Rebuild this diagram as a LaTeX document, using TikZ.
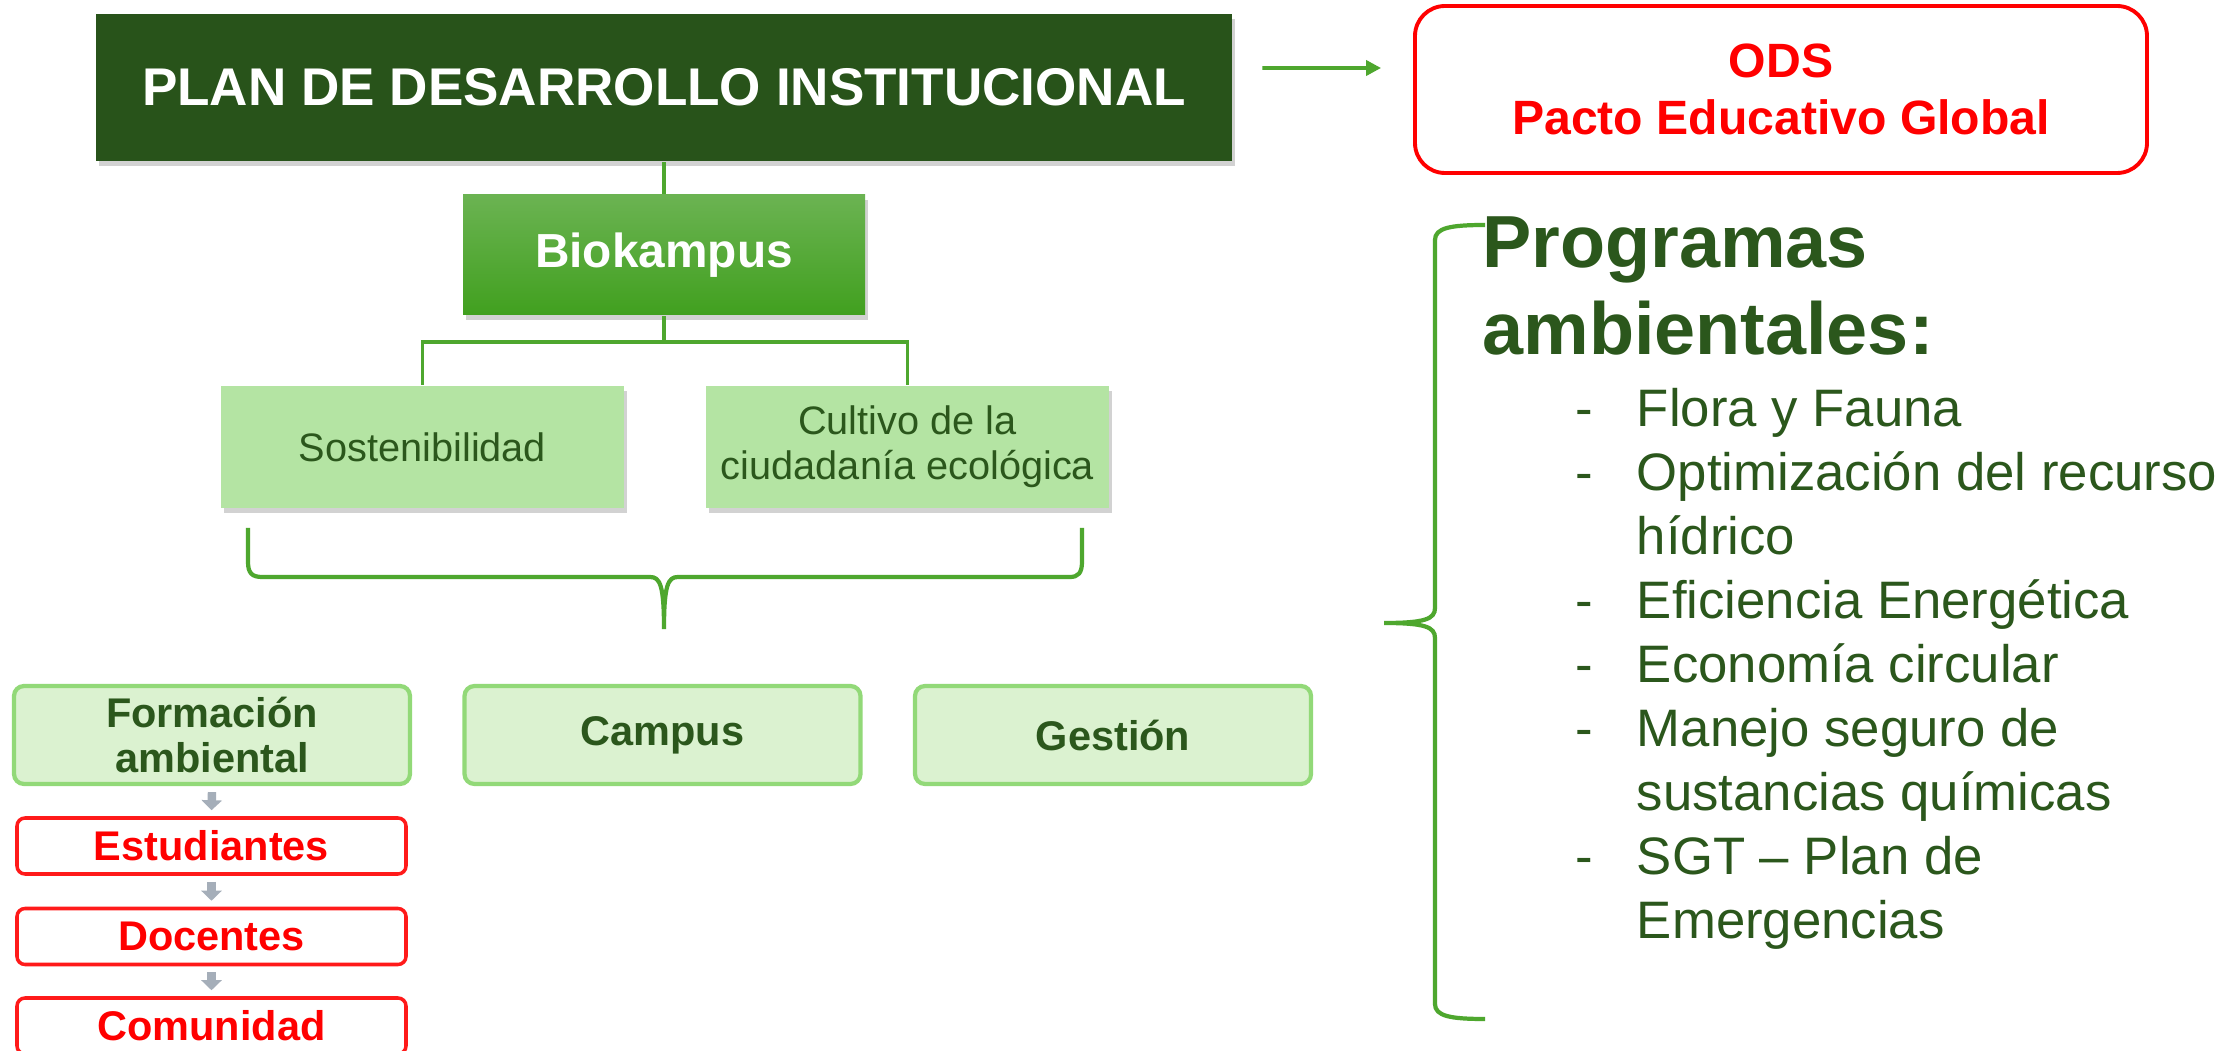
\documentclass[tikz,border=0pt]{standalone}
\usepackage{fontspec}
\setmainfont{Liberation Sans}
\usetikzlibrary{arrows.meta,shadows}

\definecolor{darkgreen}{HTML}{28531A}
\definecolor{textgreen}{HTML}{2B571C}
\definecolor{linegreen}{HTML}{4EA72E}
\definecolor{biotop}{HTML}{6BB352}
\definecolor{biobottom}{HTML}{41A01F}
\definecolor{subfill}{HTML}{B4E4A3}
\definecolor{areafill}{HTML}{DBF2D0}
\definecolor{areaborder}{HTML}{92D978}
\definecolor{arrowgray}{HTML}{A5AEB9}
\definecolor{odsred}{HTML}{FF0000}
\definecolor{boxred}{HTML}{FF1A1A}

\begin{document}
\begin{tikzpicture}[thick,
    every node/.style={inner sep=0pt, align=center},
    boxshadow/.style={drop shadow={shadow xshift=0.03cm, shadow yshift=-0.05cm, opacity=0.35}},
    pdibox/.style={fill=darkgreen, text=white, minimum width=11.36cm, minimum height=1.47cm,
        font=\bfseries\fontsize{15.1}{18}\selectfont, boxshadow},
    odsbox/.style={draw=odsred, line width=1.1pt, rounded corners=0.3cm, text=odsred,
        minimum width=7.32cm, minimum height=1.67cm, font=\bfseries\fontsize{13.7}{16.2}\selectfont},
    biobox/.style={top color=biotop, bottom color=biobottom, text=white, minimum width=4.02cm,
        minimum height=1.2cm, font=\bfseries\fontsize{13.6}{16}\selectfont, boxshadow},
    subbox/.style={fill=subfill, text=textgreen, minimum width=4.03cm, minimum height=1.22cm,
        font=\fontsize{11.3}{12.9}\selectfont, boxshadow},
    areabox/.style={draw=areaborder, fill=areafill, line width=1.2pt, rounded corners=0.1cm,
        text=textgreen, minimum width=3.96cm, minimum height=0.98cm,
        font=\bfseries\fontsize{11.8}{12.9}\selectfont},
    groupbox/.style={draw=boxred, fill=white, line width=1pt, rounded corners=0.08cm,
        text=odsred, minimum width=3.89cm, minimum height=0.56cm,
        font=\bfseries\fontsize{11.8}{13}\selectfont},
    link/.style={draw=linegreen, line width=1.1pt},
    bracegreen/.style={draw=linegreen, line width=1.2pt},
    greenarrow/.style={draw=linegreen, line width=1.1pt, -{Triangle[width=0.15cm,length=0.15cm]}},
    grayarrow/.style={draw=arrowgray, line width=2.4pt, -{Triangle[width=0.2cm,length=0.1cm]}}
  ]

  \useasboundingbox (0,0) rectangle (22.27,10.5);
  \fill[white] (0,0) rectangle (22.27,10.5);

  \node[pdibox] (pdi) at (6.64,9.625) {PLAN DE DESARROLLO INSTITUCIONAL};
  \node[odsbox] (ods) at (17.81,9.605) {ODS\\Pacto Educativo Global};
  \draw[greenarrow] ([xshift=0.29cm,yshift=0.195cm]pdi.east) -- ([xshift=-0.32cm,yshift=0.215cm]ods.west);

  \node[biobox] (bio) at (6.64,7.95) {Biokampus};
  \draw[link] (pdi.south) -- (bio.north);

  \node[subbox] (sost) at (4.225,6.03) {Sostenibilidad};
  \node[subbox] (cult) at (9.075,6.03) {Cultivo de la\\ciudadanía ecológica};
  \coordinate (split) at (6.64,7.08);
  \draw[link] (bio.south) -- (split) -| (sost.north);
  \draw[link] (split) -| (cult.north);

  \draw[bracegreen] (2.48,5.22) -- (2.48,4.88) .. controls (2.48,4.77) and (2.52,4.73) .. (2.62,4.73)
      -- (6.5,4.73) .. controls (6.6,4.73) and (6.64,4.65) .. (6.64,4.21)
      .. controls (6.64,4.65) and (6.68,4.73) .. (6.78,4.73) -- (10.7,4.73)
      .. controls (10.78,4.73) and (10.82,4.77) .. (10.82,4.88) -- (10.82,5.22);

  \node[areabox] (form) at (2.12,3.15) {Formación\\ambiental};
  \node[areabox] (camp) at (6.625,3.15) {Campus};
  \node[areabox] (gest) at (11.13,3.15) {Gestión};

  \node[groupbox] (est) at (2.115,2.04) {Estudiantes};
  \node[groupbox] (doc) at (2.115,1.135) {Docentes};
  \node[groupbox] (com) at (2.115,0.24) {Comunidad};
  \foreach \a/\b in {form/est, est/doc, doc/com}
    \draw[grayarrow] ([yshift=-0.06cm]\a.south) -- ([yshift=0.06cm]\b.north);

  \draw[bracegreen] (14.85,8.25) .. controls (14.5,8.25) and (14.35,8.22) .. (14.35,8.1)
      -- (14.35,4.42) .. controls (14.35,4.31) and (14.25,4.27) .. (13.84,4.27)
      .. controls (14.25,4.27) and (14.35,4.23) .. (14.35,4.12)
      -- (14.35,0.46) .. controls (14.35,0.34) and (14.5,0.31) .. (14.85,0.31);

  \node[anchor=base west, text=textgreen, font=\bfseries\fontsize{21}{25}\selectfont] (prog) at (14.81,7.82) {Programas};
  \node[anchor=base west, text=textgreen, font=\bfseries\fontsize{21}{25}\selectfont] (amb) at (14.81,6.95) {ambientales:};
  \node[anchor=base west, text=textgreen, align=left, font=\fontsize{15}{18.2}\selectfont] (list) at (15.74,6.235)
    {\begin{tabular}[t]{@{}l@{\hspace{0.44cm}}l@{}}
      - & Flora y Fauna\\
      - & Optimización del recurso\\
        & hídrico\\
      - & Eficiencia Energética\\
      - & Economía circular\\
      - & Manejo seguro de\\
        & sustancias químicas\\
      - & SGT -- Plan de\\
        & Emergencias
    \end{tabular}};

\end{tikzpicture}
\end{document}
